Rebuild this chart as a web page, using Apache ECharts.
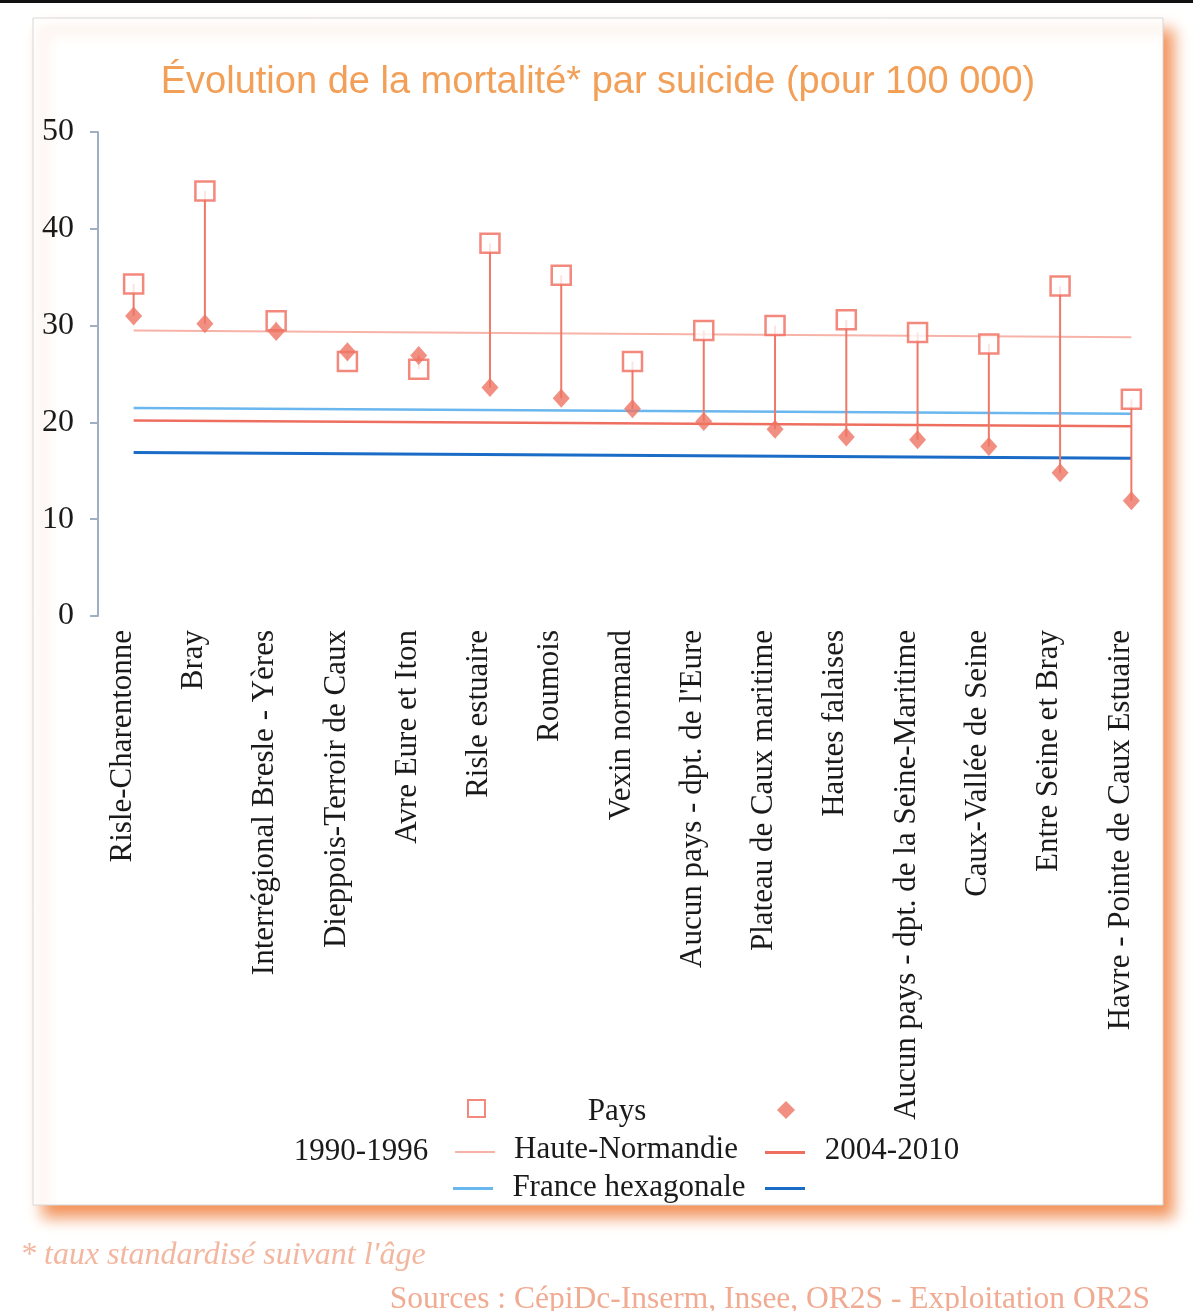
<!DOCTYPE html>
<html>
<head>
<meta charset="utf-8">
<script src="https://cdn.jsdelivr.net/npm/echarts@6/dist/echarts.min.js"></script>
<style>
html,body{margin:0;padding:0;background:#fff;}
#chart{width:1193px;height:1311px;}
</style>
</head>
<body>
<div id="chart"></div>
<script>
const categories = [
  "Risle-Charentonne", "Bray", "Interrégional Bresle - Yères", "Dieppois-Terroir de Caux",
  "Avre Eure et Iton", "Risle estuaire", "Roumois", "Vexin normand",
  "Aucun pays - dpt. de l'Eure", "Plateau de Caux maritime", "Hautes falaises",
  "Aucun pays - dpt. de la Seine-Maritime", "Caux-Vallée de Seine", "Entre Seine et Bray",
  "Havre - Pointe de Caux Estuaire"
];
const pays1990 = [34.3, 43.9, 30.5, 26.3, 25.5, 38.5, 35.2, 26.3, 29.5, 30.0, 30.6, 29.3, 28.1, 34.1, 22.4];
const pays2004 = [31.0, 30.2, 29.4, 27.3, 26.9, 23.6, 22.5, 21.4, 20.1, 19.3, 18.5, 18.2, 17.5, 14.8, 11.9];
// reference lines: value read at first and last category
const hn1990 = [29.5, 28.8];
const fr1990 = [21.5, 20.9];
const hn2004 = [20.2, 19.6];
const fr2004 = [16.9, 16.3];
const yTicks = [0, 10, 20, 30, 40, 50];

const chart = echarts.init(document.getElementById('chart'), null, {renderer: 'canvas'});
const serif = "'Liberation Serif', 'DejaVu Serif', serif";
const last = categories.length - 1;
const ends = v => [[0, v[0]], [last, v[1]]];

const legendBase = {
  selectedMode: false, padding: 0, formatter: () => '', itemGap: 0,
  textStyle: {fontSize: 1}
};
const legFont = "31px 'Liberation Serif', serif";

const option = {
  animation: false,
  backgroundColor: '#ffffff',
  title: {
    text: 'Évolution de la mortalité* par suicide (pour 100 000)',
    left: 593, top: 59, textAlign: 'center',
    textStyle: {fontFamily: "'Liberation Sans', Arial, sans-serif", fontSize: 38, fontWeight: 'normal', color: '#f29f58'}
  },
  grid: {left: 98, right: 26, top: 132, bottom: 695, containLabel: false},
  xAxis: {
    type: 'category', data: categories, boundaryGap: true,
    axisLine: {show: false}, axisTick: {show: false},
    axisLabel: {rotate: 90, interval: 0, margin: 14, fontFamily: serif, fontSize: 31, color: '#1a1a1a',
      verticalAlign: 'bottom', lineHeight: 22}
  },
  yAxis: {
    type: 'value', min: yTicks[0], max: yTicks[yTicks.length - 1], interval: 10,
    axisLine: {show: true, lineStyle: {color: '#9fb0c2', width: 2}},
    axisTick: {show: true, length: 8, lineStyle: {color: '#9fb0c2', width: 2}},
    splitLine: {show: false},
    axisLabel: {margin: 24, fontFamily: serif, fontSize: 32, color: '#1a1a1a'}
  },
  legend: [
    Object.assign({}, legendBase, {left: 467, top: 1099, itemWidth: 17, itemHeight: 17, data: ['Pays 1990-1996']}),
    Object.assign({}, legendBase, {left: 777, top: 1101, itemWidth: 18, itemHeight: 18, data: ['Pays 2004-2010']}),
    Object.assign({}, legendBase, {left: 455, top: 1151, itemWidth: 40, itemHeight: 2, icon: 'rect', data: ['Haute-Normandie 1990-1996']}),
    Object.assign({}, legendBase, {left: 765, top: 1151, itemWidth: 40, itemHeight: 3, icon: 'rect', data: ['Haute-Normandie 2004-2010']}),
    Object.assign({}, legendBase, {left: 453, top: 1187, itemWidth: 40, itemHeight: 3, icon: 'rect', data: ['France hexagonale 1990-1996']}),
    Object.assign({}, legendBase, {left: 765, top: 1187, itemWidth: 40, itemHeight: 3, icon: 'rect', data: ['France hexagonale 2004-2010']})
  ],
  graphic: [
    {type: 'rect', z: -10, shape: {x: 33, y: 18, width: 1130, height: 1187},
      style: {fill: '#ffffff', stroke: '#d8d8d8', lineWidth: 1,
        shadowColor: 'rgba(242,140,80,0.95)', shadowBlur: 14, shadowOffsetX: 10, shadowOffsetY: 12}},
    {type: 'rect', z: -5, shape: {x: 0, y: 0, width: 1193, height: 3}, style: {fill: '#111'}},
    {type: 'text', style: {text: 'Pays', x: 617, y: 1112, align: 'center', verticalAlign: 'middle', font: legFont, fill: '#1a1a1a'}},
    {type: 'text', style: {text: '1990-1996', x: 361, y: 1152, align: 'center', verticalAlign: 'middle', font: legFont, fill: '#1a1a1a'}},
    {type: 'text', style: {text: 'Haute-Normandie', x: 626, y: 1150, align: 'center', verticalAlign: 'middle', font: legFont, fill: '#1a1a1a'}},
    {type: 'text', style: {text: '2004-2010', x: 892, y: 1151, align: 'center', verticalAlign: 'middle', font: legFont, fill: '#1a1a1a'}},
    {type: 'text', style: {text: 'France hexagonale', x: 629, y: 1188, align: 'center', verticalAlign: 'middle', font: legFont, fill: '#1a1a1a'}},
    {type: 'text', style: {text: "* taux standardisé suivant l'âge", x: 20, y: 1256, align: 'left', verticalAlign: 'middle', font: "italic 32px 'Liberation Serif', serif", fill: '#f3b7a0'}},
    {type: 'text', style: {text: 'Sources : CépiDc-Inserm, Insee, OR2S - Exploitation OR2S', x: 1150, y: 1300, align: 'right', verticalAlign: 'middle', font: "31.5px 'Liberation Serif', serif", fill: '#f1ab92'}}
  ],
  series: [
    {name: 'Haute-Normandie 1990-1996', type: 'line', data: ends(hn1990), symbol: 'none', z: 1,
      lineStyle: {color: '#f7b3a8', width: 2}, itemStyle: {color: '#f7b3a8'}},
    {name: 'France hexagonale 1990-1996', type: 'line', data: ends(fr1990), symbol: 'none', z: 1,
      lineStyle: {color: '#6ab6ee', width: 2.5}, itemStyle: {color: '#6ab6ee'}},
    {name: 'Haute-Normandie 2004-2010', type: 'line', data: ends(hn2004), symbol: 'none', z: 1,
      lineStyle: {color: '#ee6e5f', width: 2.5}, itemStyle: {color: '#ee6e5f'}},
    {name: 'France hexagonale 2004-2010', type: 'line', data: ends(fr2004), symbol: 'none', z: 1,
      lineStyle: {color: '#1a6cc6', width: 3}, itemStyle: {color: '#1a6cc6'}},
    {name: 'stems', type: 'custom', z: 2,
      data: categories.map((c, i) => [i, pays1990[i], pays2004[i]]),
      encode: {x: 0, y: [1, 2]},
      renderItem: function (params, api) {
        const p1 = api.coord([api.value(0), api.value(1)]);
        const p2 = api.coord([api.value(0), api.value(2)]);
        return {type: 'line', shape: {x1: p1[0], y1: p1[1], x2: p2[0], y2: p2[1]},
          style: {stroke: '#f07868', lineWidth: 2}};
      }},
    {name: 'Pays 1990-1996', type: 'scatter', data: pays1990, symbol: 'rect', symbolSize: 19, z: 3,
      itemStyle: {color: '#ffffff', borderColor: '#f06a5c', borderWidth: 2.5}},
    {name: 'Pays 2004-2010', type: 'scatter', data: pays2004, symbol: 'diamond', symbolSize: [17, 19], z: 4,
      itemStyle: {color: '#ee7463'}}
  ]
};
chart.setOption(option);
</script>
</body>
</html>
